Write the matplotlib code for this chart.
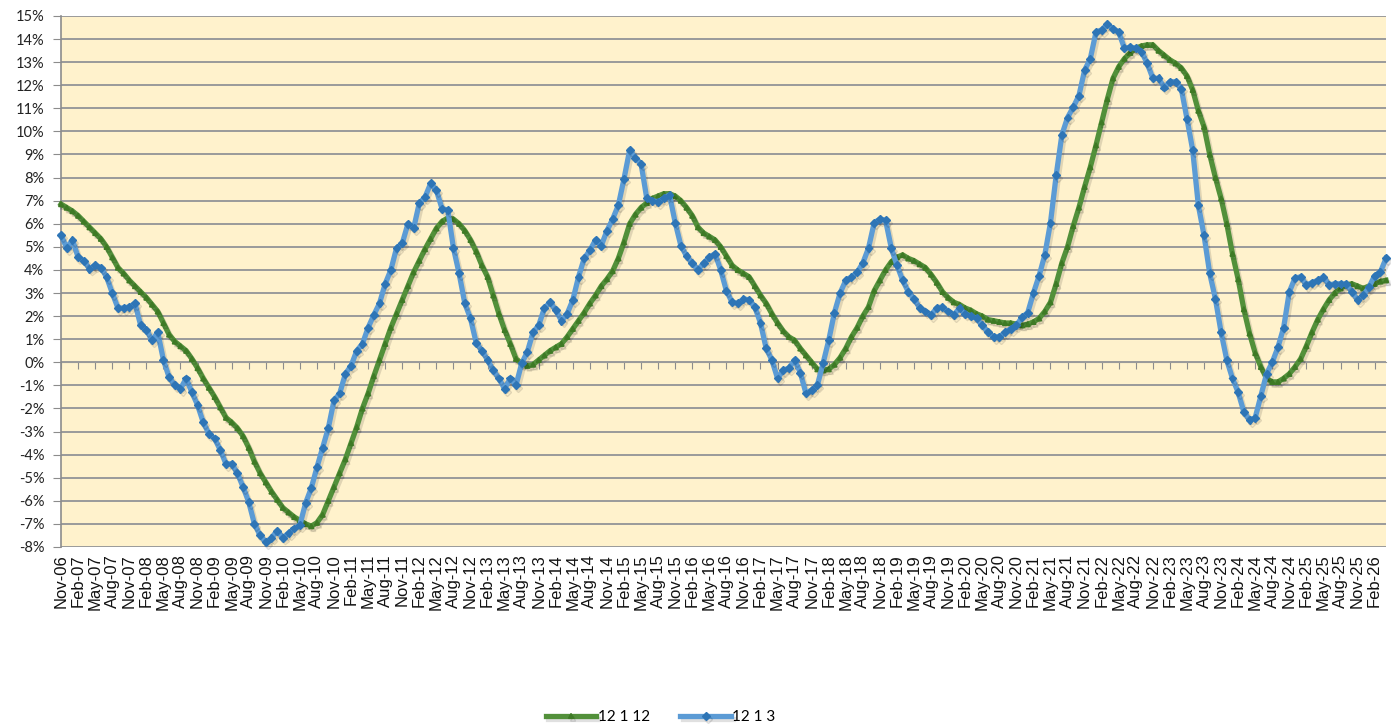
import numpy as np
import pandas as pd
import matplotlib
matplotlib.use("Agg")
import matplotlib.pyplot as plt
import matplotlib.patheffects as pe

# Monthly categories, Nov-06 .. Apr-26
months = pd.date_range("2006-11-01", periods=234, freq="MS")
month_labels = list(months.strftime("%b-%y"))

# 12 1 12 (green), one row per 12 months starting Nov-06
s_12_1_12 = [
    6.85, 6.7, 6.55, 6.35, 6.1, 5.85, 5.6, 5.35, 5.0, 4.55, 4.1, 3.85,
    3.55, 3.3, 3.05, 2.8, 2.5, 2.2, 1.7, 1.2, 0.9, 0.7, 0.5, 0.15,
    -0.25, -0.7, -1.1, -1.5, -1.95, -2.4, -2.6, -2.85, -3.2, -3.7, -4.3, -4.8,
    -5.2, -5.6, -5.95, -6.3, -6.5, -6.7, -6.85, -7.0, -7.1, -6.95, -6.6, -6.0,
    -5.4, -4.8, -4.2, -3.5, -2.8, -2.0, -1.35, -0.6, 0.1, 0.8, 1.5, 2.1,
    2.7, 3.3, 3.9, 4.4, 4.9, 5.35, 5.8, 6.1, 6.25, 6.2, 6.0, 5.7,
    5.3, 4.8, 4.2, 3.7, 2.9, 2.1, 1.4, 0.8, 0.15, -0.05, -0.15, -0.1,
    0.1, 0.3, 0.5, 0.65, 0.8, 1.1, 1.45, 1.8, 2.15, 2.55, 2.9, 3.3,
    3.6, 3.95, 4.5, 5.2, 6.0, 6.4, 6.7, 6.9, 7.1, 7.2, 7.3, 7.3,
    7.2, 7.0, 6.7, 6.35, 5.85, 5.6, 5.45, 5.3, 5.0, 4.6, 4.2, 4.0,
    3.85, 3.7, 3.3, 2.9, 2.55, 2.1, 1.7, 1.35, 1.1, 0.95, 0.6, 0.3,
    0.0, -0.3, -0.35, -0.3, -0.1, 0.2, 0.6, 1.1, 1.5, 2.0, 2.4, 3.1,
    3.55, 4.0, 4.35, 4.55, 4.65, 4.5, 4.4, 4.25, 4.1, 3.8, 3.45, 3.05,
    2.8, 2.6, 2.5, 2.35, 2.25, 2.1, 2.0, 1.85, 1.8, 1.75, 1.7, 1.7,
    1.65, 1.6, 1.65, 1.75, 1.9, 2.2, 2.6, 3.4, 4.3, 5.0, 5.9, 6.7,
    7.6, 8.45, 9.4, 10.4, 11.4, 12.3, 12.8, 13.15, 13.4, 13.6, 13.7, 13.75,
    13.75, 13.5, 13.3, 13.1, 12.95, 12.75, 12.4, 11.8, 10.9, 10.2, 9.0, 8.0,
    7.1, 6.0, 4.7, 3.6, 2.3, 1.25, 0.4, -0.2, -0.7, -0.85, -0.85, -0.7,
    -0.5, -0.2, 0.15, 0.7, 1.3, 1.85, 2.3, 2.7, 3.0, 3.2, 3.35, 3.4,
    3.3, 3.2, 3.3, 3.4, 3.5, 3.55,
]

# 12 1 3 (blue)
s_12_1_3 = [
    5.5, 4.95, 5.3, 4.55, 4.4, 4.05, 4.2, 4.1, 3.7, 3.0, 2.35, 2.35,
    2.4, 2.55, 1.6, 1.4, 0.95, 1.3, 0.1, -0.65, -1.0, -1.15, -0.7, -1.3,
    -1.85, -2.6, -3.1, -3.3, -3.8, -4.4, -4.4, -4.8, -5.4, -6.05, -7.0, -7.5,
    -7.8, -7.6, -7.3, -7.6, -7.4, -7.2, -7.05, -6.1, -5.45, -4.55, -3.7, -2.85,
    -1.65, -1.35, -0.5, -0.15, 0.5, 0.8, 1.5, 2.05, 2.55, 3.4, 4.0, 4.95,
    5.15, 6.0, 5.8, 6.9, 7.15, 7.75, 7.45, 6.65, 6.6, 4.95, 3.85, 2.55,
    1.9, 0.85, 0.5, 0.1, -0.35, -0.7, -1.15, -0.7, -1.0, -0.05, 0.45, 1.3,
    1.6, 2.35, 2.6, 2.25, 1.8, 2.1, 2.7, 3.7, 4.5, 4.85, 5.3, 5.05,
    5.7, 6.2, 6.8, 7.95, 9.2, 8.85, 8.6, 7.1, 7.0, 6.95, 7.1, 7.25,
    6.05, 5.05, 4.6, 4.3, 4.0, 4.3, 4.55, 4.7, 4.0, 3.1, 2.6, 2.55,
    2.75, 2.7, 2.4, 1.7, 0.6, 0.1, -0.7, -0.35, -0.25, 0.1, -0.45, -1.35,
    -1.2, -1.0, -0.05, 0.95, 2.15, 3.0, 3.55, 3.7, 3.9, 4.3, 4.95, 6.05,
    6.2, 6.15, 4.95, 4.2, 3.55, 3.05, 2.75, 2.35, 2.2, 2.05, 2.35, 2.4,
    2.2, 2.05, 2.35, 2.1, 2.0, 1.9, 1.6, 1.3, 1.1, 1.1, 1.3, 1.45,
    1.6, 1.95, 2.15, 3.0, 3.75, 4.65, 6.05, 8.1, 9.85, 10.6, 11.05, 11.55,
    12.65, 13.15, 14.3, 14.4, 14.65, 14.45, 14.3, 13.6, 13.65, 13.6, 13.45, 12.95,
    12.3, 12.3, 11.9, 12.15, 12.15, 11.85, 10.55, 9.2, 6.8, 5.5, 3.85, 2.75,
    1.3, 0.1, -0.7, -1.3, -2.15, -2.5, -2.4, -1.45, -0.5, 0.0, 0.65, 1.5,
    3.05, 3.65, 3.7, 3.35, 3.45, 3.55, 3.7, 3.35, 3.4, 3.4, 3.4, 3.05,
    2.7, 2.9, 3.25, 3.75, 3.9, 4.5,
]

y_ticks = list(range(-8, 16))

x = np.arange(len(month_labels))

fig = plt.figure(figsize=(13.91, 7.26), dpi=100)
ax = fig.add_axes([0.0439, 0.2466, 0.9525, 0.7314])
ax.set_facecolor("#FFF2CC")

# soft drop shadow like the spreadsheet chart
shadow = [pe.SimpleLineShadow(offset=(1.5, -2), alpha=0.12, shadow_color="black"), pe.Normal()]

ax.plot(x, s_12_1_12, color="#52903A", linewidth=3.8, marker="^", markersize=3.5,
        markerfacecolor="#3E7A25", markeredgecolor="#3E7A25", label="12 1 12",
        clip_on=False, path_effects=shadow, zorder=3)
ax.plot(x, s_12_1_3, color="#5B9BD5", linewidth=3.8, marker="D", markersize=4,
        markerfacecolor="#2E75B6", markeredgecolor="#2E75B6", label="12 1 3",
        clip_on=False, path_effects=shadow, zorder=4)

# Axes limits and ticks
ax.set_xlim(0, len(x) - 1)
ax.set_ylim(-8, 15)
ax.set_yticks(y_ticks)
ax.set_yticklabels([f"{v}%" for v in y_ticks], fontsize=10.5, family="Lato", color="#222222")
ax.set_xticks(x[::3])
ax.set_xticklabels(month_labels[::3], rotation=90, fontsize=12, family="Liberation Sans",
                   color="#111111")
ax.tick_params(axis="x", length=0, pad=5)
ax.tick_params(axis="y", direction="out", length=6, color="#8c8c8c", pad=6)

# Gridlines
ax.yaxis.grid(True, color="#9a9a9a", linewidth=1.4)
ax.set_axisbelow(True)

for side in ["top", "right", "bottom"]:
    ax.spines[side].set_visible(False)
ax.spines["left"].set_color("#8c8c8c")
ax.spines["left"].set_linewidth(1.2)

# Category axis ticks along the 0% line
sec = ax.secondary_xaxis(8 / 23)
sec.set_xticks(x[::3])
sec.xaxis.set_ticks_position("bottom")
sec.tick_params(axis="x", direction="out", length=5, color="#8c8c8c",
                labelbottom=False, labeltop=False)
for sp in sec.spines.values():
    sp.set_color("#9a9a9a")

fig.legend(loc="center", bbox_to_anchor=(0.475, 0.012), ncol=2, frameon=False,
           prop={"family": "Lato", "size": 11}, handlelength=3.3, columnspacing=2.0,
           handletextpad=0.1)

plt.savefig("out.png", dpi=100)
